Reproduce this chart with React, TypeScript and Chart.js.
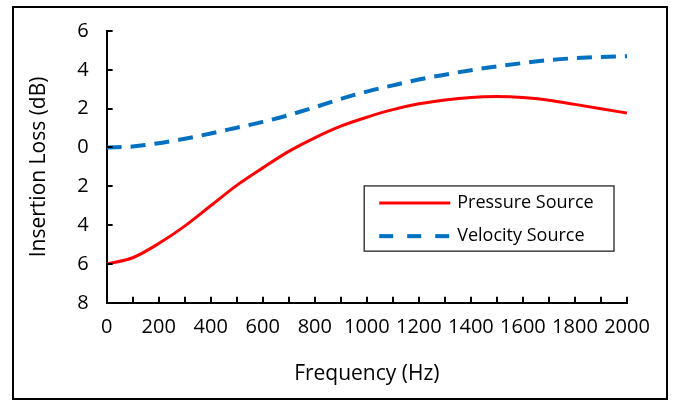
import React, { useEffect, useRef } from "react";
import { Chart, registerables } from "chart.js";

Chart.register(...registerables);

const frequencies = [0, 100, 200, 300, 400, 500, 600, 700, 800, 900, 1000, 1100, 1200, 1300, 1400, 1500, 1600, 1700, 1800, 1900, 2000];
const pressureSource = [-6, -5.68, -4.95, -4.05, -3.0, -1.95, -1.05, -0.2, 0.5, 1.1, 1.56, 1.95, 2.25, 2.45, 2.58, 2.62, 2.57, 2.43, 2.22, 2.0, 1.77];
const velocitySource = [0, 0.05, 0.22, 0.45, 0.72, 1.02, 1.32, 1.67, 2.07, 2.5, 2.88, 3.2, 3.5, 3.75, 3.98, 4.18, 4.35, 4.5, 4.6, 4.66, 4.7];
const seriesNames = ["Pressure Source", "Velocity Source"];
const xTitle = "Frequency (Hz)";
const yTitle = "Insertion Loss (dB)";

const FONT = "'Open Sans', sans-serif";

const inwardTicks = {
  id: "inwardTicks",
  afterDraw(chart: any) {
    const { ctx, chartArea, scales } = chart;
    ctx.save();
    ctx.strokeStyle = "#000";
    ctx.lineWidth = 2;
    for (let v = 0; v <= 2000; v += 100) {
      const px = Math.round(scales.x.getPixelForValue(v));
      ctx.beginPath();
      ctx.moveTo(px, chartArea.bottom);
      ctx.lineTo(px, chartArea.bottom - 6);
      ctx.stroke();
    }
    for (let v = -8; v <= 6; v += 2) {
      const py = Math.round(scales.y.getPixelForValue(v));
      ctx.beginPath();
      ctx.moveTo(chartArea.left, py);
      ctx.lineTo(chartArea.left + 6, py);
      ctx.stroke();
    }
    ctx.restore();
  },
};

const boxLegend = {
  id: "boxLegend",
  afterDraw(chart: any) {
    const { ctx, chartArea } = chart;
    const w = chartArea.right - chartArea.left;
    const h = chartArea.bottom - chartArea.top;
    const bx = chartArea.left + w * 0.495;
    const by = chartArea.top + h * 0.57;
    const bw = w * 0.48;
    const bh = h * 0.24;
    ctx.save();
    ctx.fillStyle = "#fff";
    ctx.fillRect(bx, by, bw, bh);
    ctx.strokeStyle = "#404040";
    ctx.lineWidth = 1.5;
    ctx.strokeRect(bx, by, bw, bh);
    const ds = chart.data.datasets;
    const rows = [by + bh * 0.26, by + bh * 0.77];
    ds.forEach((d: any, i: number) => {
      const y = rows[i];
      ctx.beginPath();
      ctx.strokeStyle = d.borderColor;
      ctx.lineWidth = d.borderWidth;
      ctx.setLineDash(i === 1 ? [14, 14] : []);
      ctx.moveTo(bx + 15, y);
      ctx.lineTo(bx + 86, y);
      ctx.stroke();
      ctx.setLineDash([]);
      ctx.fillStyle = "#000";
      ctx.font = `18px ${FONT}`;
      ctx.textBaseline = "middle";
      ctx.textAlign = "left";
      ctx.fillText(d.label, bx + 93, y);
    });
    ctx.restore();
  },
};

export default function App() {
  const ref = useRef<HTMLCanvasElement | null>(null);
  useEffect(() => {
    if (!ref.current) return;
    const chart = new Chart(ref.current, {
      type: "line",
      data: {
        datasets: [
          {
            label: seriesNames[0],
            data: frequencies.map((f, i) => ({ x: f, y: pressureSource[i] })),
            borderColor: "#FF0000",
            borderWidth: 3,
            pointRadius: 0,
            tension: 0.4,
            cubicInterpolationMode: "monotone",
          },
          {
            label: seriesNames[1],
            data: frequencies.map((f, i) => ({ x: f, y: velocitySource[i] })),
            borderColor: "#0070C0",
            borderWidth: 4,
            borderDash: [15, 9],
            pointRadius: 0,
            tension: 0.4,
            cubicInterpolationMode: "monotone",
          },
        ],
      },
      options: {
        animation: false,
        responsive: false,
        maintainAspectRatio: false,
        layout: { padding: { top: 0, right: 39, bottom: 7, left: 8 } },
        plugins: { legend: { display: false }, tooltip: { enabled: false } },
        scales: {
          x: {
            type: "linear",
            min: 0,
            max: 2000,
            grid: { display: false, drawTicks: false },
            border: { display: true, color: "#000", width: 2 },
            ticks: {
              stepSize: 200,
              autoSkip: false,
              maxRotation: 0,
              padding: 12,
              color: "#000",
              font: { family: FONT, size: 20 },
              callback: (v: any) => String(v),
            },
            title: {
              display: true,
              text: xTitle,
              color: "#000",
              font: { family: FONT, size: 21 },
              padding: { top: 11 },
            },
          },
          y: {
            type: "linear",
            min: -8,
            max: 6,
            grid: { display: false, drawTicks: false },
            border: { display: true, color: "#000", width: 2 },
            ticks: {
              stepSize: 2,
              padding: 18,
              color: "#000",
              font: { family: FONT, size: 20, lineHeight: 0.5 },
              callback: (v: any) => String(Math.abs(Number(v))),
            },
            title: {
              display: true,
              text: yTitle,
              color: "#000",
              font: { family: FONT, size: 21 },
              padding: { bottom: 8 },
            },
          },
        },
      },
      plugins: [inwardTicks, boxLegend],
    });
    return () => chart.destroy();
  }, []);
  return (
    <div
      style={{
        position: "absolute",
        left: 12,
        top: 6,
        width: 656,
        height: 394,
        border: "2px solid #000",
        boxSizing: "border-box",
        background: "#fff",
      }}
    >
      <canvas ref={ref} width={652} height={390} style={{ display: "block" }} />
    </div>
  );
}
